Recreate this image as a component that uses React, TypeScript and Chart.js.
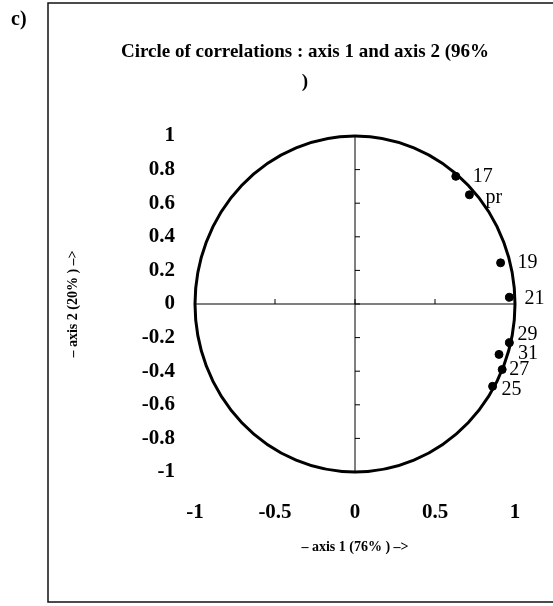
import React, { useEffect, useRef } from "react";
import { Chart, registerables } from "chart.js";

Chart.register(...registerables);

// ---- data ----
const variableNames = ["17", "pr", "19", "21", "29", "31", "27", "25"];
const axis1Values = [0.63, 0.715, 0.91, 0.965, 0.965, 0.9, 0.92, 0.86];
const axis2Values = [0.76, 0.65, 0.245, 0.04, -0.23, -0.3, -0.39, -0.49];
const xTickValues = [-1, -0.5, 0, 0.5, 1];
const xTickLabels = ["-1", "-0.5", "0", "0.5", "1"];
const yTickValues = [1, 0.8, 0.6, 0.4, 0.2, 0, -0.2, -0.4, -0.6, -0.8, -1];
const yTickLabels = ["1", "0.8", "0.6", "0.4", "0.2", "0", "-0.2", "-0.4", "-0.6", "-0.8", "-1"];
const titleLines = ["Circle of correlations : axis 1 and axis 2 (96%", ")"];
const xAxisTitle = "\u2013 axis 1 (76% ) \u2013>";
const yAxisTitle = "\u2013 axis 2 (20% ) \u2013>";
const panelLabel = "c)";
const circleRadius = 1;

// label placement (pixels, relative to the point)
const labelOffsets: [number, number][] = [
  [17, 0], [16, 3], [17, 0], [15, 1], [8, -8], [19, -1], [7, 0], [9, 3],
];

const SERIF = "'Liberation Serif', 'Times New Roman', serif";

const decorPlugin = {
  id: "decor",
  beforeDraw(chart: any) {
    const ctx = chart.ctx;
    ctx.save();
    ctx.fillStyle = "#ffffff";
    ctx.fillRect(0, 0, chart.width, chart.height);
    // frame
    ctx.strokeStyle = "#111";
    ctx.lineWidth = 1.5;
    ctx.beginPath();
    ctx.moveTo(chart.width, 3);
    ctx.lineTo(48, 3);
    ctx.lineTo(48, 602);
    ctx.lineTo(chart.width, 602);
    ctx.stroke();
    // panel label
    ctx.fillStyle = "#000";
    ctx.font = `bold 20px ${SERIF}`;
    ctx.textAlign = "left";
    ctx.textBaseline = "middle";
    ctx.fillText(panelLabel, 11, 20);
    // title
    ctx.font = `bold 19px ${SERIF}`;
    ctx.textAlign = "center";
    ctx.fillText(titleLines[0], 305, 52);
    ctx.fillText(titleLines[1], 305, 82);
    ctx.restore();
  },
  beforeDatasetsDraw(chart: any) {
    const ctx = chart.ctx;
    const xs = chart.scales.x;
    const ys = chart.scales.y;
    const x0 = xs.getPixelForValue(0);
    const y0 = ys.getPixelForValue(0);
    ctx.save();
    // crosshair
    ctx.strokeStyle = "#000";
    ctx.lineWidth = 1;
    ctx.beginPath();
    ctx.moveTo(xs.getPixelForValue(-circleRadius), y0);
    ctx.lineTo(xs.getPixelForValue(circleRadius), y0);
    ctx.moveTo(x0, ys.getPixelForValue(circleRadius));
    ctx.lineTo(x0, ys.getPixelForValue(-circleRadius));
    ctx.stroke();
    // small tick marks
    ctx.beginPath();
    yTickValues.forEach((v) => {
      const py = ys.getPixelForValue(v);
      ctx.moveTo(x0, py);
      ctx.lineTo(x0 + 5, py);
    });
    xTickValues.forEach((v) => {
      const px = xs.getPixelForValue(v);
      ctx.moveTo(px, y0);
      ctx.lineTo(px, y0 - 5);
    });
    ctx.stroke();
    // correlation circle (radius 1 through the scales)
    const rx = xs.getPixelForValue(circleRadius) - x0;
    const ry = y0 - ys.getPixelForValue(circleRadius);
    ctx.lineWidth = 3;
    ctx.beginPath();
    ctx.ellipse(x0, y0, rx, ry, 0, 0, Math.PI * 2);
    ctx.stroke();
    ctx.restore();
  },
  afterDatasetsDraw(chart: any) {
    const ctx = chart.ctx;
    const meta = chart.getDatasetMeta(0);
    ctx.save();
    ctx.fillStyle = "#000";
    ctx.font = `20px ${SERIF}`;
    ctx.textAlign = "left";
    ctx.textBaseline = "middle";
    meta.data.forEach((el: any, i: number) => {
      const [dx, dy] = labelOffsets[i];
      ctx.fillText(variableNames[i], el.x + dx, el.y + dy);
    });
    ctx.restore();
  },
};

export default function App() {
  const ref = useRef<HTMLCanvasElement | null>(null);
  useEffect(() => {
    if (!ref.current) return;
    const chart = new Chart(ref.current, {
      type: "scatter",
      data: {
        datasets: [
          {
            data: axis1Values.map((x, i) => ({ x, y: axis2Values[i] })),
            backgroundColor: "#000",
            borderColor: "#000",
            pointRadius: 4,
            pointHoverRadius: 4,
            clip: false as any,
          },
        ],
      },
      options: {
        animation: false,
        responsive: false,
        events: [],
        layout: { padding: { left: 48, right: 38, top: 136, bottom: 4 } },
        plugins: {
          legend: { display: false },
          tooltip: { enabled: false },
          title: { display: false },
        },
        scales: {
          x: {
            type: "linear",
            min: -1,
            max: 1,
            afterFit: (s: any) => { s.height = 130; },
            afterBuildTicks: (s: any) => { s.ticks = xTickValues.map((v) => ({ value: v })); },
            grid: { display: false, drawTicks: false },
            border: { display: false },
            ticks: {
              padding: 28,
              color: "#000",
              font: { family: SERIF, size: 21, weight: "bold" },
              maxRotation: 0,
              callback: (v: any) => xTickLabels[xTickValues.indexOf(Number(v))] ?? "",
            },
            title: {
              display: true,
              text: xAxisTitle,
              color: "#000",
              font: { family: SERIF, size: 14, weight: "bold" },
              padding: { top: 0, bottom: 46 },
            },
          },
          y: {
            type: "linear",
            min: -1,
            max: 1,
            afterFit: (s: any) => { s.width = 147; },
            afterBuildTicks: (s: any) => { s.ticks = yTickValues.map((v) => ({ value: v })); },
            grid: { display: false, drawTicks: false },
            border: { display: false },
            ticks: {
              padding: 20,
              color: "#000",
              font: { family: SERIF, size: 21, weight: "bold" },
              callback: (v: any) => {
                const idx = yTickValues.findIndex((t) => Math.abs(t - Number(v)) < 1e-9);
                return idx >= 0 ? yTickLabels[idx] : "";
              },
            },
            title: {
              display: true,
              text: yAxisTitle,
              color: "#000",
              font: { family: SERIF, size: 14, weight: "bold" },
              padding: { top: 17, bottom: 0 },
            },
          },
        },
      },
      plugins: [decorPlugin],
    });
    return () => chart.destroy();
  }, []);
  return (
    <div style={{ position: "absolute", left: 0, top: 0, width: 553, height: 606 }}>
      <canvas ref={ref} width={553} height={606} style={{ display: "block" }} />
    </div>
  );
}
